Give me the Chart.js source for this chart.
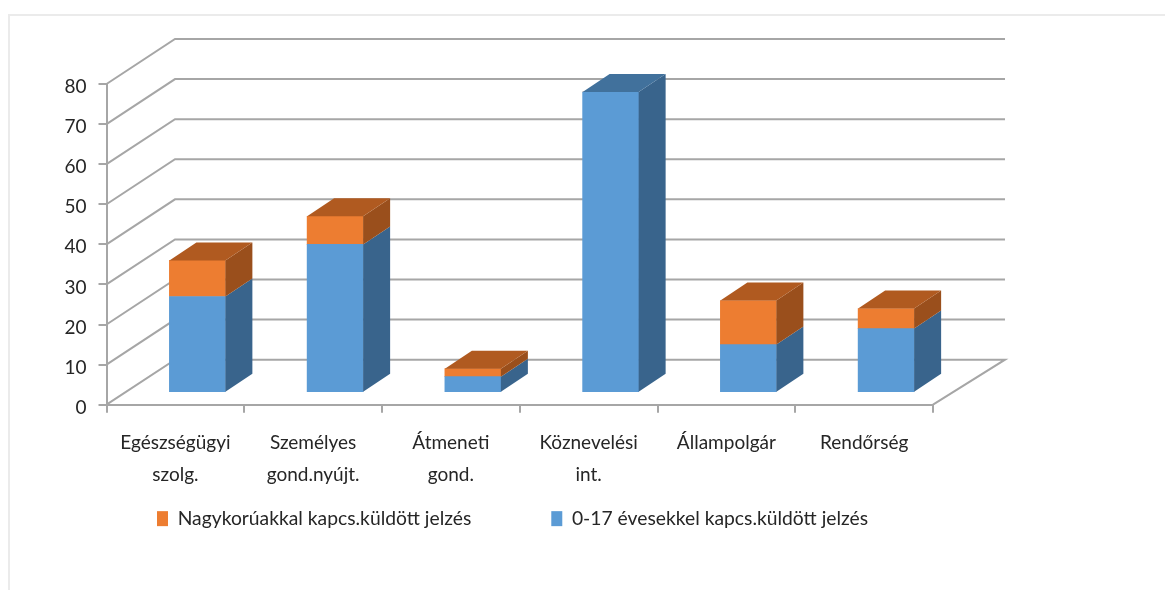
<!DOCTYPE html>
<html>
<head>
<meta charset="utf-8">
<title>Jelzések</title>
<script src="https://cdn.jsdelivr.net/npm/chart.js@4"></script>
<style>
	html, body { margin: 0; padding: 0; background: #fff; overflow: hidden; }
	#frame { position: absolute; left: 8px; top: 14px; right: 0; bottom: 0; border-left: 2px solid #ebebeb; border-top: 2px solid #ebebeb; }
	canvas { position: absolute; left: 0; top: 0; filter: blur(0.5px); }
</style>
</head>
<body>
<div id="frame"></div>
<canvas id="myChart" width="1165" height="590"></canvas>
<script>
// Data
var categories = [
	['Egészségügyi', 'szolg.'],
	['Személyes', 'gond.nyújt.'],
	['Átmeneti', 'gond.'],
	['Köznevelési', 'int.'],
	'Állampolgár',
	'Rendőrség'
];
var minorValues = [24, 37, 4, 75, 12, 16];
var adultValues = [9, 7, 2, 0, 11, 5];
var minorLabel = '0-17 évesekkel kapcs.küldött jelzés';
var adultLabel = 'Nagykorúakkal kapcs.küldött jelzés';
var yTicks = [0, 10, 20, 30, 40, 50, 60, 70, 80];

var gridColor = '#a6a6a6';
var textColor = '#262626';
var shades = {
	'#5b9bd5': { side: '#39648c', top: '#41719c' },
	'#ed7d31': { side: '#9a4f1c', top: '#b05a20' }
};
// 3d offsets: back wall from the front plane, bars from the front plane, bar depth
var wall = { x: 68.5, y: -45, rightEnd: 72 };
var barShift = { x: 22, y: -12 };
var barDepth = { x: 27, y: -18 };

function poly(ctx, color, pts) {
	ctx.fillStyle = color;
	ctx.beginPath();
	pts.forEach(function (p, i) {
		if (i == 0) ctx.moveTo(p[0], p[1]);
		else ctx.lineTo(p[0], p[1]);
	});
	ctx.closePath();
	ctx.fill();
}

var fake3d = {
	id: 'fake3d',
	afterLayout: function (chart) {
		// legend sits under the labels, further left than the plot centre
		chart.legend.left = 77;
		chart.legend.right = 1100;
		chart.legend.top = 429;
	},
	beforeDatasetsDraw: function (chart) {
		var ctx = chart.ctx, y = chart.scales.y, area = chart.chartArea;
		// walls and floor
		ctx.save();
		ctx.strokeStyle = gridColor;
		ctx.lineWidth = 2;
		yTicks.forEach(function (t) {
			var py = y.getPixelForValue(t);
			ctx.beginPath();
			ctx.moveTo(area.left, py);
			ctx.lineTo(area.left + wall.x, py + wall.y);
			ctx.lineTo(area.right + wall.rightEnd, py + wall.y);
			if (t == 0) ctx.lineTo(area.right, py);
			ctx.stroke();
		});
		ctx.restore();
		// front faces are drawn by the library, moved into the floor
		ctx.save();
		ctx.translate(barShift.x, barShift.y);
	},
	afterDatasetsDraw: function (chart) {
		var ctx = chart.ctx;
		categories.forEach(function (c, i) {
			var lastTop = null;
			chart.data.datasets.forEach(function (ds, d) {
				if (!ds.data[i]) return;
				var bar = chart.getDatasetMeta(d).data[i];
				var r = bar.x + bar.width / 2;
				var s = shades[ds.backgroundColor];
				poly(ctx, s.side, [
					[r, bar.base],
					[r + barDepth.x, bar.base + barDepth.y],
					[r + barDepth.x, bar.y + barDepth.y],
					[r, bar.y]
				]);
				lastTop = { bar: bar, color: s.top };
			});
			var b = lastTop.bar, l = b.x - b.width / 2, rr = b.x + b.width / 2;
			poly(ctx, lastTop.color, [
				[l, b.y],
				[rr, b.y],
				[rr + barDepth.x, b.y + barDepth.y],
				[l + barDepth.x, b.y + barDepth.y]
			]);
		});
		ctx.restore();
	}
};

var ctx = document.getElementById('myChart').getContext('2d');
var myChart = new Chart(ctx, {
	type: 'bar',
	data: {
		labels: categories,
		datasets: [
			{ label: minorLabel, data: minorValues, backgroundColor: '#5b9bd5', barThickness: 56 },
			{ label: adultLabel, data: adultValues, backgroundColor: '#ed7d31', barThickness: 56 }
		]
	},
	options: {
		responsive: false,
		devicePixelRatio: 1,
		animation: false,
		layout: { padding: { left: 30, right: 232, top: 84, bottom: -9 } },
		scales: {
			x: {
				stacked: true,
				afterFit: function (s) { s.height = 85; },
				grid: { drawOnChartArea: false, color: gridColor, lineWidth: 2, tickLength: 8 },
				border: { color: gridColor, width: 2 },
				ticks: {
					color: textColor,
					padding: 14,
					autoSkip: false,
					maxRotation: 0,
					font: { family: 'Lato', size: 19, lineHeight: 1.7 }
				}
			},
			y: {
				stacked: true,
				min: 0,
				max: 80,
				afterFit: function (s) { s.width = 76.5; },
				grid: { drawOnChartArea: false, color: gridColor, lineWidth: 2, tickLength: 8 },
				border: { color: gridColor, width: 2 },
				ticks: {
					color: textColor,
					stepSize: 10,
					padding: 12,
					labelOffset: 3,
					autoSkip: false,
					font: { family: 'Lato', size: 19 }
				}
			}
		},
		plugins: {
			tooltip: { enabled: false },
			legend: {
				position: 'bottom',
				align: 'start',
				reverse: true,
				labels: {
					color: textColor,
					boxWidth: 11,
					boxHeight: 15,
					padding: 80,
					font: { family: 'Lato', size: 19.3 }
				}
			}
		}
	},
	plugins: [fake3d]
});
</script>
</body>
</html>
